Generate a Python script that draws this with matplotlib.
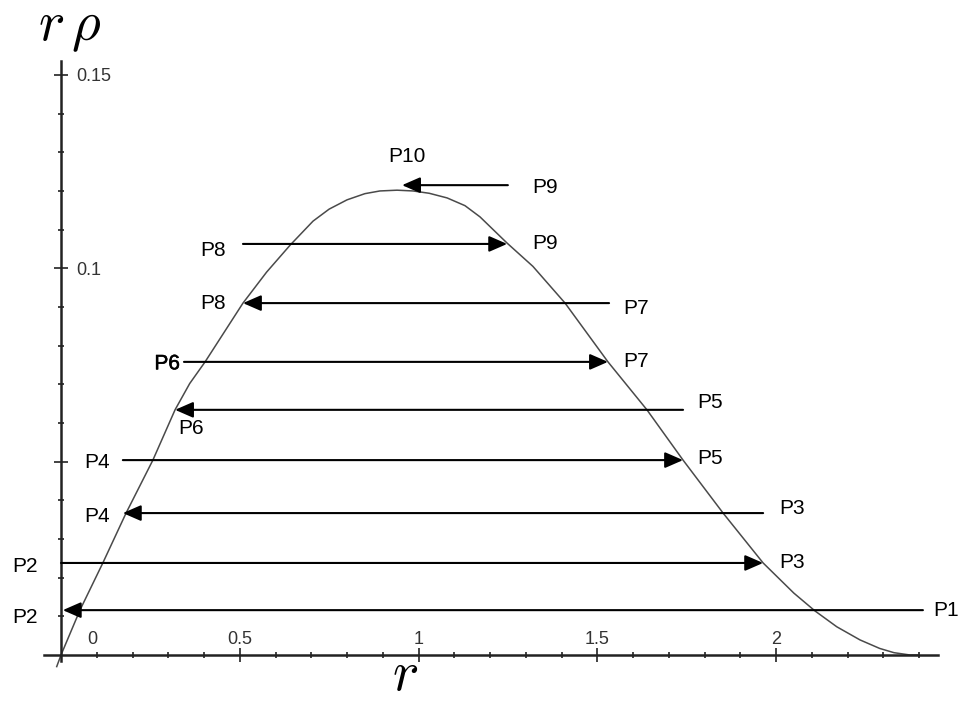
import matplotlib
matplotlib.use("Agg")
import matplotlib.pyplot as plt
import matplotlib.patheffects as pe

plt.rcParams['font.family'] = ['Liberation Sans', 'DejaVu Sans']
plt.rcParams['mathtext.fontset'] = 'cm'

# curve r*rho
curve_r = [-0.012, 0.0, 0.053, 0.117, 0.182, 0.257, 0.319, 0.360, 0.403, 0.509,
           0.575, 0.641, 0.705, 0.750, 0.800, 0.850, 0.892, 0.940, 0.985, 1.030,
           1.080, 1.130, 1.172, 1.248, 1.320, 1.410, 1.530, 1.639, 1.740, 1.852,
           1.964, 2.050, 2.109, 2.170, 2.235, 2.290, 2.330, 2.375, 2.400]
curve_f = [-0.003, 0.0, 0.0116, 0.0238, 0.0367, 0.0504, 0.0634, 0.0702, 0.0758, 0.0910,
           0.0990, 0.1060, 0.1122, 0.1153, 0.1177, 0.1193, 0.1200, 0.1202, 0.1200, 0.1194,
           0.1182, 0.1162, 0.1133, 0.1065, 0.1005, 0.0910, 0.0758, 0.0634, 0.0504, 0.0367,
           0.0238, 0.0160, 0.0114, 0.0073, 0.0039, 0.0017, 0.0006, 0.0, 0.0]

# horizontal arrows: level, tail r, head r
arrow_level = [0.0116, 0.0238, 0.0367, 0.0504, 0.0634, 0.0758, 0.0910, 0.1063, 0.1215]
arrow_tail = [2.411, 0.0, 1.964, 0.173, 1.740, 0.344, 1.533, 0.509, 1.250]
arrow_head = [0.005, 1.964, 0.173, 1.740, 0.319, 1.530, 0.509, 1.248, 0.954]

# point labels: text, r, rho-level, alignment
labels = ['P1', 'P2', 'P2', 'P3', 'P3', 'P4', 'P4', 'P5', 'P5',
          'P6', 'P6', 'P7', 'P7', 'P8', 'P8', 'P9', 'P9', 'P10']
label_r = [2.439, -0.064, -0.064, 2.008, 2.008, 0.137, 0.137, 1.779, 1.779,
           0.327, 0.333, 1.572, 1.572, 0.462, 0.462, 1.317, 1.317, 0.968]
label_f = [0.0116, 0.0230, 0.0096, 0.0380, 0.0238, 0.0497, 0.0359, 0.0652, 0.0509,
           0.0587, 0.0753, 0.0897, 0.0758, 0.1047, 0.0910, 0.1210, 0.1065, 0.1288]
label_ha = ['left', 'right', 'right', 'left', 'left', 'right', 'right', 'left', 'left',
            'left', 'right', 'left', 'left', 'right', 'right', 'left', 'left', 'center']

x_major = [0.5, 1.0, 1.5, 2.0]
x_major_labels = ['0.5', '1', '1.5', '2']
x_minor = [0.1, 0.2, 0.3, 0.4, 0.6, 0.7, 0.8, 0.9, 1.1, 1.2, 1.3, 1.4,
           1.6, 1.7, 1.8, 1.9, 2.1, 2.2, 2.3, 2.4]
y_major = [0.05, 0.10, 0.15]
y_major_labels = ['', '0.1', '0.15']
y_minor = [0.01, 0.02, 0.03, 0.04, 0.06, 0.07, 0.08, 0.09,
           0.11, 0.12, 0.13, 0.14]

fig = plt.figure(figsize=(9.64, 7.02), dpi=100)
ax = fig.add_axes([0, 0, 1, 1])
ax.set_xlim(-61 / 357.5, 903 / 357.5)
ax.set_ylim(-47 / 3867, 655 / 3867)
ax.patch.set_visible(False)

ax.plot(curve_r, curve_f, color='#4a4a4a', lw=1.1, zorder=2,
        solid_joinstyle='round')

for lvl, t, h in zip(arrow_level, arrow_tail, arrow_head):
    ax.annotate('', xy=(h, lvl), xytext=(t, lvl),
                arrowprops=dict(arrowstyle='-|>,head_length=0.55,head_width=0.24',
                                mutation_scale=20, shrinkA=0, shrinkB=0,
                                lw=1.5, color='black'), zorder=3)

for i, (txt, r, f, ha) in enumerate(zip(labels, label_r, label_f, label_ha)):
    t = ax.text(r, f, txt, ha=ha, va='center', fontsize=15, color='black')
    if i == 10:
        # this one is drawn twice in the original, looks a bit heavier
        t.set_path_effects([pe.withStroke(linewidth=0.4, foreground='black')])

# axes through the origin
for s in ['left', 'bottom']:
    ax.spines[s].set_visible(False)
ax.spines['top'].set_position(('data', 0))
ax.spines['top'].set_bounds(-0.048, 2.453)
ax.spines['right'].set_position(('data', 0))
ax.spines['right'].set_bounds(-0.0015, 0.1535)
for s in ['top', 'right']:
    ax.spines[s].set_linewidth(1.8)
    ax.spines[s].set_color('#222222')
ax.xaxis.set_ticks_position('top')
ax.yaxis.set_ticks_position('right')

ax.set_xticks(x_major, x_major_labels)
ax.set_xticks(x_minor, minor=True)
ax.set_yticks(y_major, y_major_labels)
ax.set_yticks(y_minor, minor=True)
ax.tick_params(axis='x', which='major', direction='inout', length=9.5, width=1.2,
               pad=0, labelsize=13, labelcolor='#333333', color='#222222')
ax.tick_params(axis='x', which='minor', direction='inout', length=4.3, width=1.2,
               color='#222222')
ax.tick_params(axis='y', which='major', direction='inout', length=10, width=1.2,
               pad=6, labelsize=13, labelcolor='#333333', color='#222222')
ax.tick_params(axis='y', which='minor', direction='inout', length=5, width=1.2,
               color='#222222')
ax.text(0.087, 0.0039, '0', ha='center', va='center', fontsize=13, color='#333333')

# axis names
ax.text(-0.064, 0.159, r'$r\,\rho$', ha='left', va='baseline', fontsize=40)
ax.text(0.962, -0.00905, r'$r$', ha='center', va='baseline', fontsize=40)

fig.savefig('out.png', dpi=100, facecolor='white')
